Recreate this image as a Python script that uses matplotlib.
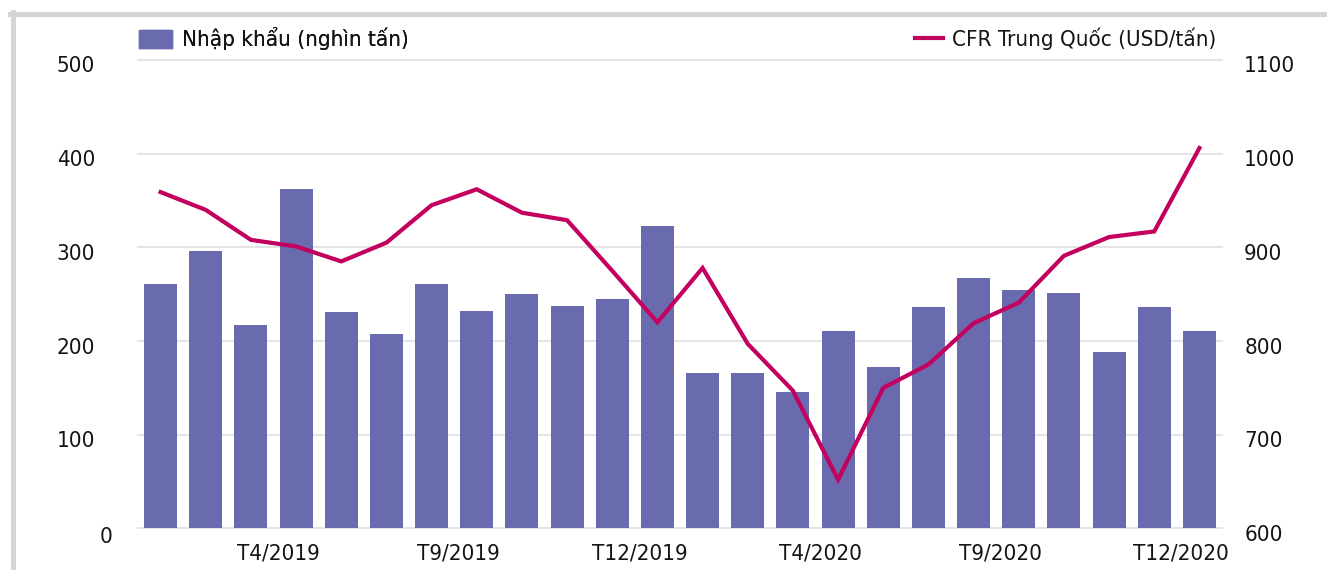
import matplotlib
matplotlib.use('Agg')
import matplotlib.pyplot as plt
import matplotlib.transforms as mtransforms
from matplotlib.lines import Line2D
from matplotlib.patches import Patch
import numpy as np

# condensed face comes closest to the narrow font of the original
plt.rcParams['font.family'] = ['DejaVu Sans']
plt.rcParams['font.stretch'] = 'condensed'

# data (T1/2019 .. T12/2020)
months = ['T%d/%d' % (m, y) for y in (2019, 2020) for m in range(1, 13)]
imports = [261, 296, 217, 362, 231, 207, 261, 232, 250, 237, 245, 323,
           166, 166, 146, 211, 172, 236, 267, 255, 251, 188, 236, 211]
cfr_price = [959, 940, 908, 901, 885, 905, 945, 962, 937, 929, 875, 820,
             878, 797, 747, 652, 750, 775, 819, 841, 891, 911, 917, 1006]
xtick_labels = ['T4/2019', 'T9/2019', 'T12/2019', 'T4/2020', 'T9/2020', 'T12/2020']
left_ticks = [0, 100, 200, 300, 400, 500]
right_ticks = [600, 700, 800, 900, 1000, 1100]

barColor = '#6a6aae'
lineColor = '#c4005f'
gridColor = '#e2e2e2'
textColor = '#141414'
fs = 16

W, H = 1327, 570
fig = plt.figure(figsize=(W / 100, H / 100), dpi=100)
ax = fig.add_axes([138 / W, 1 - 528.4 / H, 1084 / W, 468.4 / H])
ax2 = ax.twinx()

x = np.arange(len(months))
ax.bar(x, imports, width=0.73, color=barColor, zorder=2, label='Nhập khẩu (nghìn tấn)')
ax2.plot(x, cfr_price, color=lineColor, lw=3.0, solid_joinstyle='miter',
         label='CFR Trung Quốc (USD/tấn)')

ax.set_xlim(-0.5, len(months) - 0.5)
ax.set_ylim(0, 500)
ax2.set_ylim(600, 1100)

ax.set_yticks(left_ticks)
ax2.set_yticks(right_ticks)
ax.set_xticks(np.arange(2, 24, 4) + 0.6)
ax.set_xticklabels(xtick_labels)

ax.yaxis.grid(True, color=gridColor, lw=1.3)
ax.set_axisbelow(True)
for a in (ax, ax2):
    for s in a.spines.values():
        s.set_visible(False)
ax.tick_params(axis='y', length=0, pad=31, labelsize=fs, labelcolor=textColor)
ax.tick_params(axis='x', length=0, pad=11, labelsize=fs, labelcolor=textColor)
ax2.tick_params(axis='y', length=0, pad=16, labelsize=fs, labelcolor=textColor)

# labels sit a little below their gridlines in the original
fig.canvas.draw()
for gl in ax.get_ygridlines():
    gl.set_clip_on(False)
down = mtransforms.ScaledTranslation(0, -0.045, fig.dpi_scale_trans)
for lbl in ax.get_yticklabels() + ax2.get_yticklabels():
    lbl.set_transform(lbl.get_transform() + down)
zero = ax.get_yticklabels()[0]
zero.set_transform(zero.get_transform() + mtransforms.ScaledTranslation(0.18, -0.02, fig.dpi_scale_trans))

# legends
leg1 = ax.legend(handles=[Patch(color=barColor, label='Nhập khẩu (nghìn tấn)')],
                 loc='center left', bbox_to_anchor=(0.001, 1.045), frameon=False,
                 fontsize=fs, handlelength=1.5, handleheight=0.85, handletextpad=0.45,
                 borderpad=0, borderaxespad=0, labelcolor=textColor)
ax.add_artist(leg1)
ax2.legend(handles=[Line2D([], [], color=lineColor, lw=3.0, label='CFR Trung Quốc (USD/tấn)')],
           loc='center left', bbox_to_anchor=(0.7168, 1.045), frameon=False,
           fontsize=fs, handlelength=1.25, handletextpad=0.42,
           borderpad=0, borderaxespad=0, labelcolor=textColor)

# grey frame on top and left
fig.add_artist(Line2D([10 / W, 1], [1 - 14 / H, 1 - 14 / H], color='#d4d4d4', lw=3.6))
fig.add_artist(Line2D([12.5 / W, 12.5 / W], [0, 1 - 12 / H], color='#d4d4d4', lw=3.6))

fig.savefig('out.png', dpi=100)
